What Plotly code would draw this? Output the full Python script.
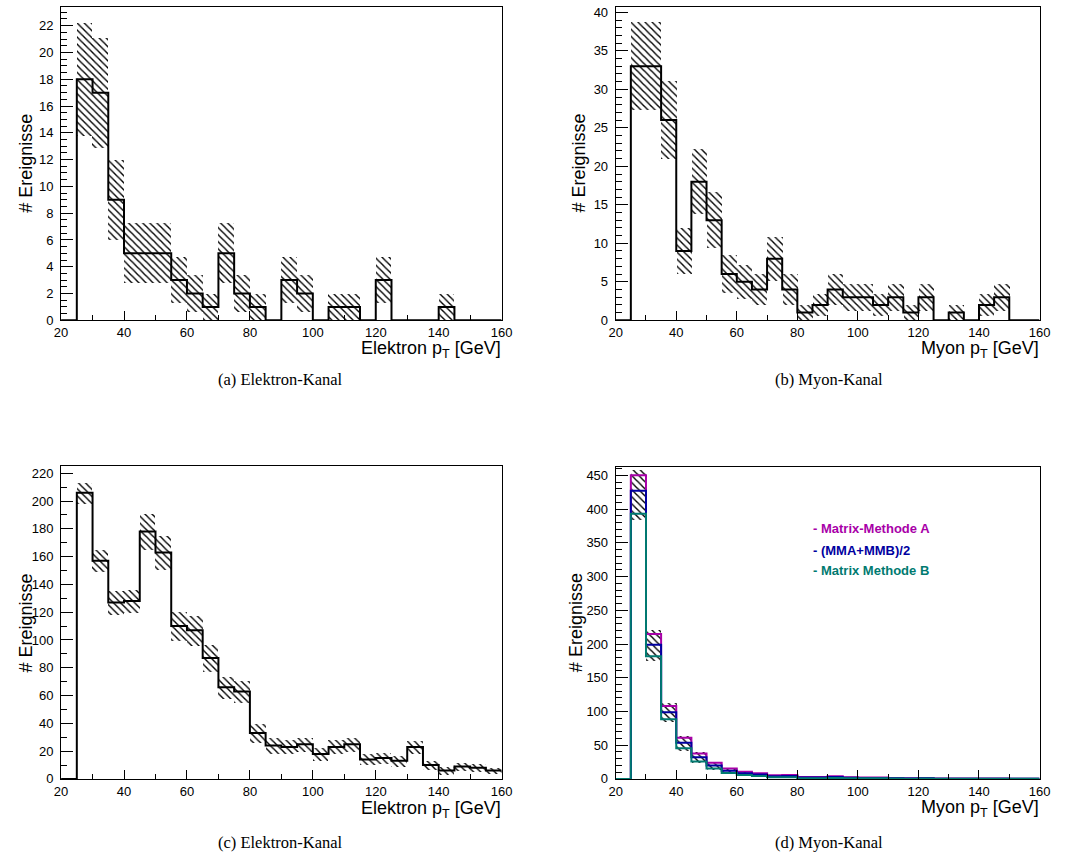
import plotly.graph_objects as go

# ---------------- data ----------------
bin_edges = [20 + 5 * i for i in range(29)]  # 20..160, 5 GeV bins

# (a) Elektron-Kanal
elek_a = [0, 18, 17, 9, 5, 5, 5, 3, 2, 1, 5, 2, 1, 0, 3, 2, 0, 1, 1, 0, 3, 0, 0, 0, 1, 0, 0, 0]
elek_a_err = [0, 4.24, 4.12, 3.0, 2.24, 2.24, 2.24, 1.73, 1.41, 1.0, 2.24, 1.41, 1.0, 0, 1.73, 1.41,
              0, 1.0, 1.0, 0, 1.73, 0, 0, 0, 1.0, 0, 0, 0]

# (b) Myon-Kanal
myon_b = [0, 33, 33, 26, 9, 18, 13, 6, 5, 4, 8, 4, 1, 2, 4, 3, 3, 2, 3, 1, 3, 0, 1, 0, 2, 3, 0, 0]
myon_b_err = [0, 5.74, 5.74, 5.10, 3.0, 4.24, 3.61, 2.45, 2.24, 2.0, 2.83, 2.0, 1.0, 1.41, 2.0, 1.73,
              1.73, 1.41, 1.73, 1.0, 1.73, 0, 1.0, 0, 1.41, 1.73, 0, 0]

# (c) Elektron-Kanal
elek_c = [0, 206, 157, 127, 128, 178, 163, 110, 107, 87, 66, 63, 33, 24, 23, 25, 18, 23, 25, 14, 15,
          13, 23, 10, 6, 9, 8, 6]
elek_c_err = [0, 7.5, 8.0, 8.5, 8.5, 12.8, 12.0, 10.6, 10.7, 9.7, 8.0, 8.0, 6.7, 5.5, 5.0, 5.0, 4.5,
              5.0, 5.0, 4.0, 4.0, 4.0, 4.5, 3.5, 3.0, 3.0, 3.0, 2.5]

# (d) Myon-Kanal, three methods
mm_a = [0, 450, 215, 108, 61, 37.5, 24, 15.5, 10.7, 8.3, 5.4, 5.9, 2.9, 2.9, 3.9, 2.5, 2.0, 2.0, 1.5,
        1.0, 1.5, 0.5, 0.5, 0.5, 0.5, 0.5, 0.4, 0.4]
mm_avg = [0, 427, 199, 99, 53.5, 32, 20, 12.2, 8.3, 6.4, 3.9, 4.4, 2.0, 2.0, 2.9, 1.8, 1.5, 1.5, 1.0,
          0.7, 1.0, 0.3, 0.3, 0.3, 0.3, 0.3, 0.3, 0.3]
mm_b = [0, 393, 182, 88.5, 45.5, 26, 15.5, 8.8, 5.9, 4.4, 2.4, 2.4, 1.0, 1.0, 1.5, 1.0, 1.0, 1.0, 0.5,
        0.4, 0.5, 0.2, 0.2, 0.2, 0.2, 0.2, 0.2, 0.2]
mm_band_lo = [0, 385, 176, 84.5, 41.5, 24, 14, 7.5, 4.5, 3.0, 1.5, 1.5, 0.5, 0.5, 1.0, 0.5, 0.5, 0.5,
              0.2, 0.2, 0.2, 0.1, 0.1, 0.1, 0.1, 0.1, 0.1, 0.1]
mm_band_hi = [0, 458, 221, 113.8, 65, 40, 26, 17, 12, 9.5, 6.5, 7.0, 3.5, 3.5, 4.5, 3.0, 2.5, 2.5, 2.0,
              1.5, 2.0, 0.8, 0.8, 0.8, 0.8, 0.8, 0.6, 0.6]

x_title_e = "Elektron p<sub>T</sub> [GeV]"
x_title_m = "Myon p<sub>T</sub> [GeV]"
y_title = "# Ereignisse"
captions = ["(a) Elektron-Kanal", "(b) Myon-Kanal", "(c) Elektron-Kanal", "(d) Myon-Kanal"]
legend_texts = ["- Matrix-Methode A", "- (MMA+MMB)/2", "- Matrix Methode B"]
legend_colors = ["#a800a8", "#0000a0", "#007a70"]

# ---------------- figure ----------------
W, H = 1082, 866
fig = go.Figure()

centers = [(bin_edges[i] + bin_edges[i + 1]) / 2 for i in range(len(bin_edges) - 1)]


def px_x(p):
    return p / W


def px_y(p):
    return 1 - p / H


def add_band(lo, hi, xa, ya):
    fig.add_trace(go.Bar(
        x=centers, y=[h - l for l, h in zip(lo, hi)], base=lo, width=5,
        xaxis=xa, yaxis=ya,
        marker=dict(color="black", line=dict(width=0),
                    pattern=dict(shape="\\", fgcolor="black", bgcolor="rgba(0,0,0,0)",
                                 size=5, solidity=0.28, fillmode="replace")),
        showlegend=False, hoverinfo="skip"))


def add_step(vals, xa, ya, color="black", width=2):
    fig.add_trace(go.Scatter(
        x=bin_edges, y=list(vals) + [vals[-1]], mode="lines",
        line=dict(shape="hv", color=color, width=width),
        xaxis=xa, yaxis=ya, showlegend=False, hoverinfo="skip"))


# (a)
add_band([v - e for v, e in zip(elek_a, elek_a_err)], [v + e for v, e in zip(elek_a, elek_a_err)], "x", "y")
add_step(elek_a, "x", "y")
# (b)
add_band([v - e for v, e in zip(myon_b, myon_b_err)], [v + e for v, e in zip(myon_b, myon_b_err)], "x2", "y2")
add_step(myon_b, "x2", "y2")
# (c)
add_band([v - e for v, e in zip(elek_c, elek_c_err)], [v + e for v, e in zip(elek_c, elek_c_err)], "x3", "y3")
add_step(elek_c, "x3", "y3")
# (d)
add_band(mm_band_lo, mm_band_hi, "x4", "y4")
add_step(mm_a, "x4", "y4", legend_colors[0], 2)
add_step(mm_avg, "x4", "y4", legend_colors[1], 2)
add_step(mm_b, "x4", "y4", legend_colors[2], 2)

tickfont = dict(family="Liberation Sans, Arial, sans-serif", size=13, color="black")

# geometry (pixels): left, right, top, bottom of each frame
frames = {
    "": (55, 503, 5, 322),
    "2": (619, 1050, 5, 322),
    "3": (55, 503, 469, 786),
    "4": (619, 1050, 470, 786),
}
yranges = {"": (0, 23.4, 2, 0.5), "2": (0, 40.7, 5, 1), "3": (0, 225.5, 20, 10), "4": (0, 463, 50, 10)}

layout_axes = {}
for k, (l, r, t, b) in frames.items():
    ymin, ymax, ydt, ymdt = yranges[k]
    layout_axes["xaxis" + k] = dict(
        domain=[px_x(l), px_x(r)], anchor="y" + k, range=[20, 160],
        tickmode="linear", tick0=20, dtick=20, ticks="inside", ticklen=9, tickwidth=1,
        tickcolor="black", showline=True, linecolor="black", linewidth=1, mirror=True,
        showgrid=False, zeroline=False, tickfont=tickfont, ticklabelstandoff=0,
        minor=dict(dtick=10, tick0=20, ticks="inside", ticklen=5, tickcolor="black", showgrid=False),
    )
    layout_axes["yaxis" + k] = dict(
        domain=[px_y(b), px_y(t)], anchor="x" + k, range=[ymin, ymax],
        tickmode="linear", tick0=0, dtick=ydt, ticks="inside", ticklen=12, tickwidth=1,
        tickcolor="black", showline=True, linecolor="black", linewidth=1, mirror=True,
        showgrid=False, zeroline=False, tickfont=tickfont, ticklabelstandoff=4,
        minor=dict(dtick=ymdt, tick0=0, ticks="inside", ticklen=6, tickcolor="black", showgrid=False),
    )

annotations = []
# x titles (right-aligned under the axis, as in the reference)
for k, title, ypix in [("", x_title_e, 352), ("2", x_title_m, 352), ("3", x_title_e, 817), ("4", x_title_m, 816)]:
    l, r, t, b = frames[k]
    annotations.append(dict(text=title, x=px_x(r), y=px_y(ypix), xref="paper", yref="paper",
                            xanchor="right", yanchor="middle", showarrow=False, borderpad=0,
                            font=dict(family="Liberation Sans, Arial, sans-serif", size=18, color="black")))
# y titles
for xpix, ypix in [(19, 163), (582, 163), (19, 628), (578, 628)]:
    annotations.append(dict(text=y_title, x=px_x(xpix), y=px_y(ypix), xref="paper", yref="paper",
                            xanchor="center", yanchor="middle", textangle=-90, showarrow=False,
                            font=dict(family="Liberation Sans, Arial, sans-serif", size=18, color="black")))
# captions
for cap, xpix, ypix in zip(captions, [278, 836, 278, 836], [382, 382, 850, 850]):
    annotations.append(dict(text=cap, x=px_x(xpix), y=px_y(ypix), xref="paper", yref="paper",
                            xanchor="center", yanchor="middle", showarrow=False,
                            font=dict(family="Liberation Serif, Times New Roman, serif", size=16.5, color="black")))
# legend of (d)
for txt, col, ypix in zip(legend_texts, legend_colors, [533, 555, 575]):
    annotations.append(dict(text="<b>" + txt + "</b>", x=px_x(818), y=px_y(ypix), xref="paper", yref="paper",
                            xanchor="left", yanchor="middle", showarrow=False,
                            font=dict(family="Liberation Sans, Arial, sans-serif", size=13, color=col)))

fig.update_layout(
    width=W, height=H, margin=dict(l=0, r=0, t=0, b=0),
    paper_bgcolor="white", plot_bgcolor="white",
    barmode="overlay", bargap=0, showlegend=False,
    annotations=annotations, **layout_axes,
)

fig.write_html("out.html")
